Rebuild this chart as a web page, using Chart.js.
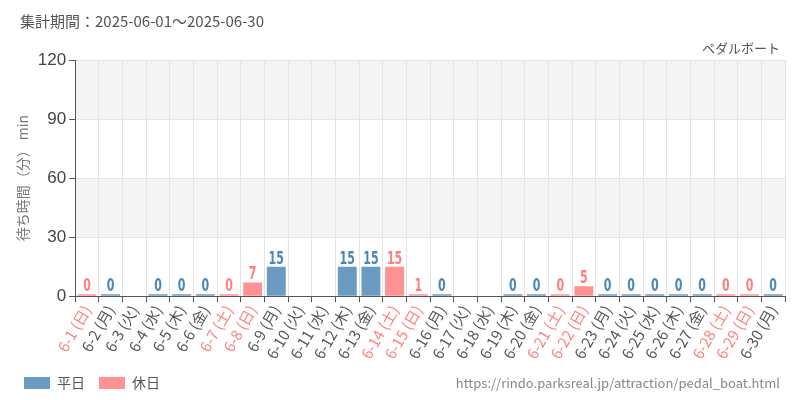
<!DOCTYPE html>
<html><head><meta charset="utf-8">
<script src="https://cdn.jsdelivr.net/npm/chart.js@4"></script>
<style>
body{margin:0;font-family:"Noto Sans CJK JP","Noto Sans",sans-serif;}
#wrap{position:relative;width:800px;height:400px;}
#period{position:absolute;left:20px;top:10px;font-size:15px;color:#555;}
#attr{position:absolute;right:20px;top:38px;font-size:13px;color:#555;}
#url{position:absolute;right:20px;top:373px;font-size:13px;color:#888;}
</style></head><body>
<div id="wrap">
<canvas id="c" width="800" height="400"></canvas>
<div id="period">集計期間：2025-06-01～2025-06-30</div>
<div id="attr">ペダルボート</div>
<div id="url">https://rindo.parksreal.jp/attraction/pedal_boat.html</div>
</div>
<script>
const days = ['6-1 (日)','6-2 (月)','6-3 (火)','6-4 (水)','6-5 (木)','6-6 (金)','6-7 (土)','6-8 (日)','6-9 (月)','6-10 (火)',
  '6-11 (水)','6-12 (木)','6-13 (金)','6-14 (土)','6-15 (日)','6-16 (月)','6-17 (火)','6-18 (水)','6-19 (木)','6-20 (金)',
  '6-21 (土)','6-22 (日)','6-23 (月)','6-24 (火)','6-25 (水)','6-26 (木)','6-27 (金)','6-28 (土)','6-29 (日)','6-30 (月)'];
const holidayIdx = [0,6,7,13,14,20,21,27,28];
const weekdayVals = [null,0,null,0,0,0,null,null,15,null,null,15,15,null,null,0,null,null,0,0,null,null,0,0,0,0,0,null,null,0];
const holidayVals = [0,null,null,null,null,null,0,7,null,null,null,null,null,15,1,null,null,null,null,null,0,5,null,null,null,null,null,0,0,null];
const yTicks = [0,30,60,90,120];

const RED = '#ff7f7f', BLUE = '#4a86b8';

const bands = {
  id: 'bands',
  beforeDraw(chart) {
    const {ctx, chartArea: a, scales: {y}} = chart;
    ctx.save();
    ctx.fillStyle = '#f4f4f4';
    [[30,60],[90,120]].forEach(([lo,hi]) => {
      ctx.fillRect(a.left, y.getPixelForValue(hi), a.right - a.left, y.getPixelForValue(lo) - y.getPixelForValue(hi));
    });
    ctx.restore();
  }
};

const valueLabels = {
  id: 'valueLabels',
  afterDatasetsDraw(chart) {
    const ctx = chart.ctx;
    ctx.save();
    ctx.textAlign = 'center';
    ctx.textBaseline = 'bottom';
    chart.data.datasets.forEach((ds, di) => {
      chart.getDatasetMeta(di).data.forEach((bar, i) => {
        const v = ds.data[i];
        if (v === null) return;
        ctx.fillStyle = di === 0 ? BLUE : RED;
        ctx.font = 'bold 17px "DejaVu Sans Condensed"';
        ctx.save();
        ctx.translate(bar.x, Math.min(bar.y, bar.base - 2) + 1);
        ctx.scale(0.72, 1);
        ctx.fillText(String(v), 0, 0);
        ctx.restore();
      });
    });
    ctx.restore();
  }
};

new Chart(document.getElementById('c'), {
  type: 'bar',
  data: {
    labels: days,
    datasets: [
      {label: '平日', data: weekdayVals, backgroundColor: 'rgba(70,130,180,0.8)', minBarLength: 2, barPercentage: 0.8, categoryPercentage: 1},
      {label: '休日', data: holidayVals, backgroundColor: 'rgba(255,110,110,0.75)', minBarLength: 2, barPercentage: 0.8, categoryPercentage: 1}
    ]
  },
  options: {
    responsive: false,
    animation: false,
    layout: {padding: {top: 60, right: 15, left: 10, bottom: 0}},
    plugins: {
      legend: {position: 'bottom', align: 'start',
        labels: {boxWidth: 26, boxHeight: 12, font: {size: 14, family: '"Noto Sans CJK JP"'}, color: '#555', padding: 14}},
      tooltip: {enabled: false}
    },
    scales: {
      x: {stacked: true,
        grid: {color: '#e4e4e4', tickLength: 6, tickColor: '#555'},
        border: {color: '#555'},
        ticks: {autoSkip: false, minRotation: 60, maxRotation: 60, padding: 0,
          font: {size: 15, family: '"Noto Sans CJK JP"'},
          color: ctx => holidayIdx.includes(ctx.index) ? RED : '#555'}
      },
      y: {stacked: true, min: 0, max: 120,
        afterBuildTicks: s => { s.ticks = yTicks.map(v => ({value: v})); },
        grid: {color: '#e4e4e4', tickLength: 6, tickColor: '#555'},
        border: {color: '#555'},
        ticks: {font: {size: 17}, color: '#444'},
        title: {display: true, text: '待ち時間（分） min', color: '#777', font: {size: 14, family: '"Noto Sans CJK JP"'}}
      }
    }
  },
  plugins: [bands, valueLabels]
});
</script>
</body></html>
